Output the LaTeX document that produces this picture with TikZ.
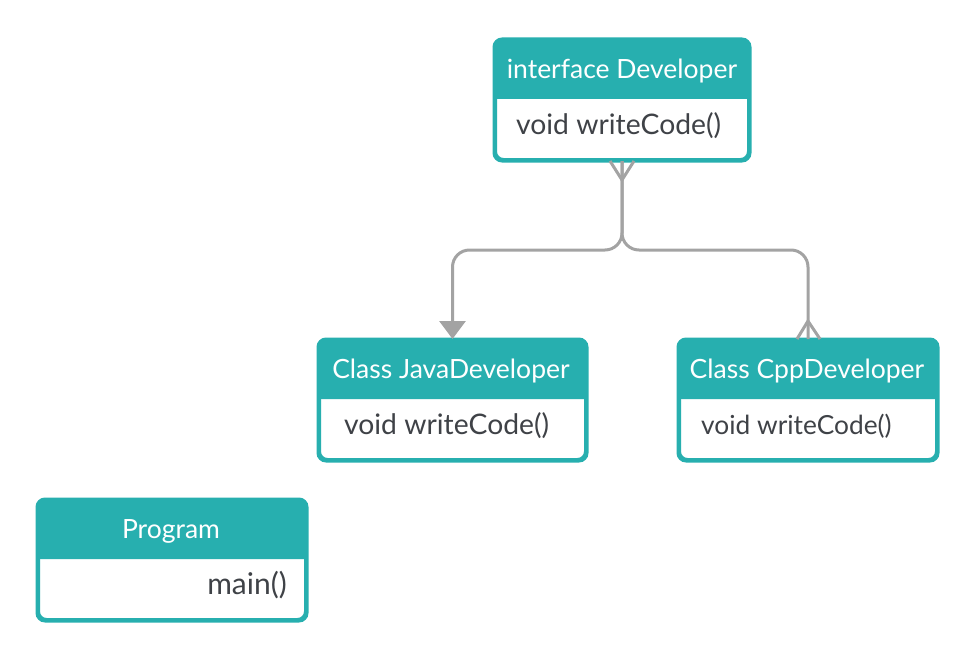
\documentclass[tikz,border=0pt]{standalone}
\usepackage{fontspec}
\setmainfont{Lato}
\usetikzlibrary{arrows.meta}
\definecolor{teal1}{HTML}{27AFAF}
\definecolor{conngray}{HTML}{A3A3A3}
\definecolor{txtdark}{HTML}{3F4247}
\tikzset{
  x=1pt, y=-1pt,
  umlbox/.style={draw=teal1, line width=3pt, fill=white, rounded corners=8pt,
     minimum height=119pt, inner sep=0pt},
  hdrtext/.style={text=white, font=\fontsize{26.5}{30}\selectfont, inner sep=0pt, anchor=base},
  bodytext/.style={text=txtdark, font=\fontsize{28.3}{32}\selectfont, inner sep=0pt},
  conn/.style={draw=conngray, line width=3pt},
}
\newcommand{\umlheader}[1]{%
  \fill[teal1] ([yshift=-60pt]#1.north west) [rounded corners=8pt] -- (#1.north west) -- (#1.north east) [sharp corners] -- ([yshift=-60pt]#1.north east) -- cycle;
  \draw[teal1, line width=3pt, rounded corners=8pt] (#1.north west) rectangle (#1.south east);
}
\begin{document}
\begin{tikzpicture}
\useasboundingbox (0,0) rectangle (978,661);
% boxes
\node[umlbox, minimum width=253pt] (dev) at (622,100) {};
\node[umlbox, minimum width=266pt] (java) at (452.5,400) {};
\node[umlbox, minimum width=257pt] (cpp) at (808,400) {};
\node[umlbox, minimum width=267pt] (prog) at (172,560) {};
\umlheader{dev}
\umlheader{java}
\umlheader{cpp}
\umlheader{prog}
% texts
\node[hdrtext] (devT) at (622,78) {interface Developer};
\node[bodytext, anchor=base west] (devB) at (516,134) {void writeCode()};
\node[hdrtext] (javaT) at (451,378) {Class JavaDeveloper};
\node[bodytext, anchor=base west] (javaB) at (344,434) {void writeCode()};
\node[hdrtext] (cppT) at (807,378) {Class CppDeveloper};
\node[bodytext, anchor=base west, font=\fontsize{26.3}{30}\selectfont] (cppB) at (701,434) {void writeCode()};
\node[hdrtext] (progT) at (171,538) {Program};
\node[bodytext, anchor=base east, font=\fontsize{30}{34}\selectfont] (progB) at (287,594) {main()};
% connectors
\coordinate (split) at (622,250);
\draw[conn, rounded corners=17pt, -{Triangle[width=26pt,length=18pt,fill=conngray]}] (dev.south) -- (split) -| (java.north);
\draw[conn, rounded corners=17pt] (dev.south) -- (split) -| (cpp.north);
% crow's feet
\draw[conn] ([xshift=-12pt]dev.south) -- ([yshift=-19pt]dev.south) -- ([xshift=12pt]dev.south);
\draw[conn] ([xshift=-11pt]cpp.north) -- ([yshift=18pt]cpp.north) -- ([xshift=12pt]cpp.north);
\end{tikzpicture}
\end{document}
